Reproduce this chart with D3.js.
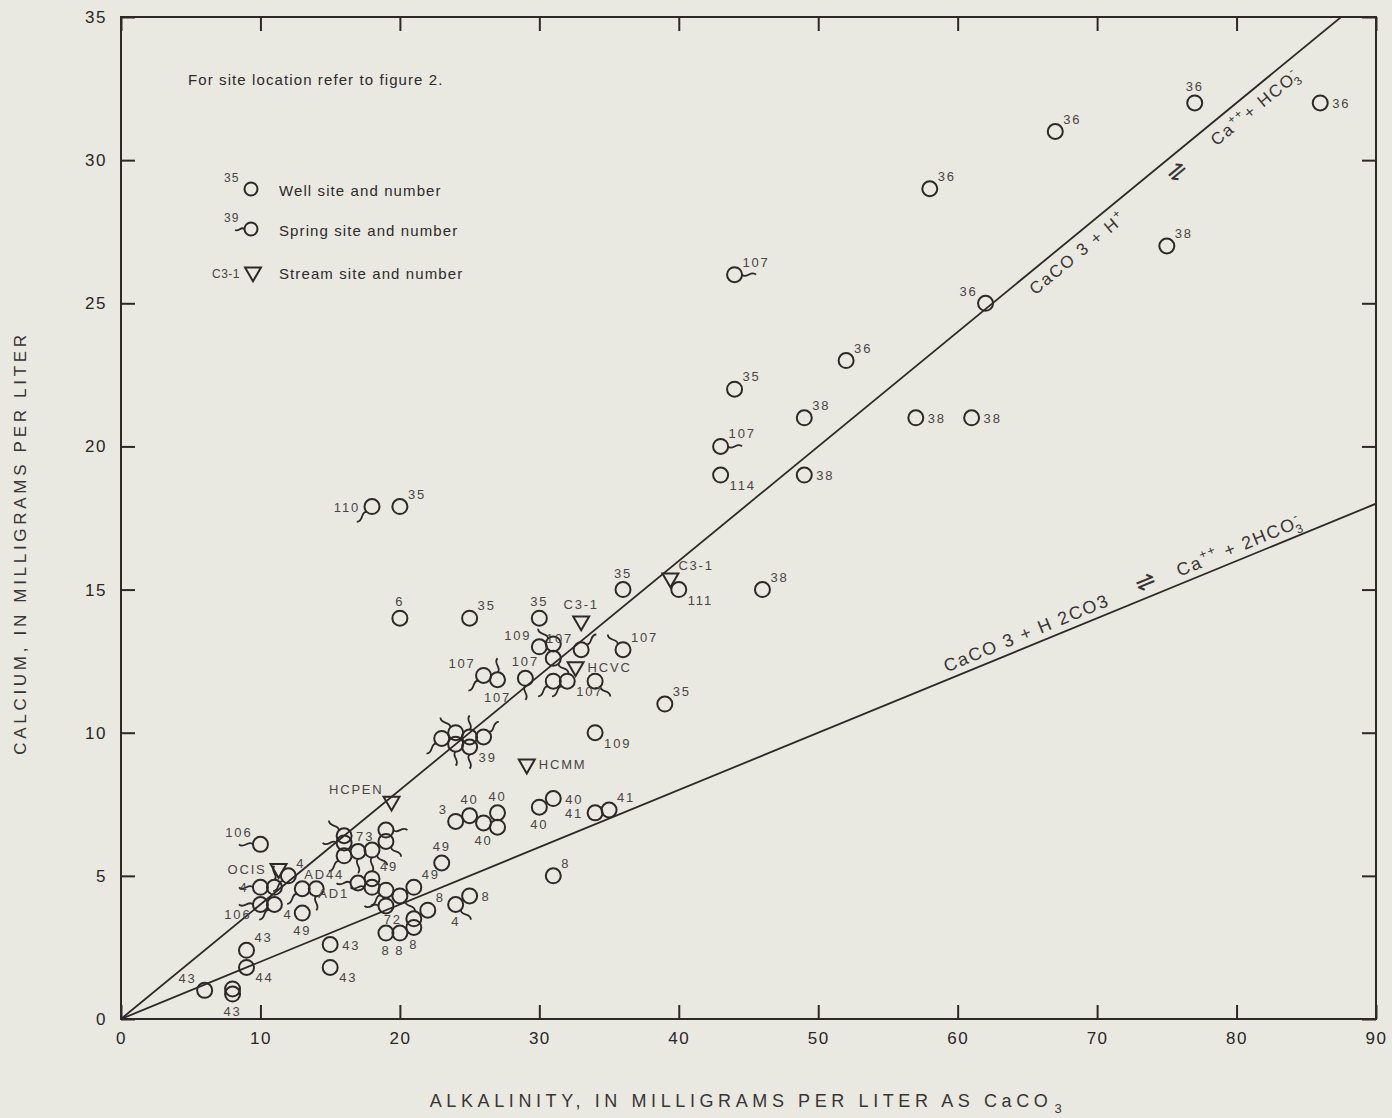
<!DOCTYPE html>
<html>
<head>
<meta charset="utf-8">
<script src="https://cdn.jsdelivr.net/npm/d3@7"></script>
<style>
  body { margin: 0; background: #e9e9e2; }
  svg { display: block; }
  text { font-family: "Liberation Sans", Arial, sans-serif; fill: #2e2a2a; }
</style>
</head>
<body>
<div id="chart"></div>
<script>
'use strict'

// axis ticks
const xTicks = [0, 10, 20, 30, 40, 50, 60, 70, 80, 90]
const yTicks = [0, 5, 10, 15, 20, 25, 30, 35]

// equilibrium lines: calcium = ratio * alkalinity
const lineRatios = [0.4, 0.2]

// wells: [alkalinity, calcium, site number, label side]
const wells = [
  [67, 31, '36', 'ne'], [77, 32, '36', 'n'], [86, 32, '36', 'e'], [58, 29, '36', 'ne'],
  [75, 27, '38', 'ne'], [62, 25, '36', 'nw'], [52, 23, '36', 'ne'], [44, 22, '35', 'ne'],
  [49, 21, '38', 'ne'], [57, 21, '38', 'e'], [61, 21, '38', 'e'], [43, 19, '114', 'se'],
  [49, 19, '38', 'e'], [20, 17.9, '35', 'ne'], [20, 14, '6', 'n'], [25, 14, '35', 'ne'],
  [30, 14, '35', 'n'], [36, 15, '35', 'n'], [40, 15, '111', 'se'], [46, 15, '38', 'ne'],
  [39, 11, '35', 'ne'], [34, 10, '109', 'se'], [30, 13, '109', 'nw'],
  [24, 6.9, '3', 'nw'], [25, 7.1, '40', 'n'], [26, 6.85, '40', 's'], [27, 7.2, '40', 'n'],
  [27, 6.7, '', ''], [30, 7.4, '40', 's'], [31, 7.7, '40', 'e'], [34, 7.2, '41', 'w'],
  [35, 7.3, '41', 'ne'], [31, 5.0, '8', 'ne'], [23, 5.45, '49', 'n'], [25, 4.3, '8', 'e'],
  [22, 3.8, '8', 'ne'], [21, 3.5, '72', 'w'], [21, 3.2, '8', 's'], [19, 3.0, '8', 's'],
  [20, 3.0, '8', 's'], [13, 3.7, '49', 's'], [21, 4.6, '49', 'ne'],
  [9, 2.4, '43', 'ne'], [9, 1.8, '44', 'se'], [15, 2.6, '43', 'e'], [15, 1.8, '43', 'se'],
  [6, 1.0, '43', 'nw'], [8, 1.05, '', ''], [8, 0.87, '43', 's']
]

// springs: [alkalinity, calcium, site number, label side, tail side]
const springs = [
  [44, 26, '107', 'ne', 'e'], [43, 20, '107', 'ne', 'e'], [18, 17.9, '110', 'w', 'sw'],
  [31, 13.1, '', '', 'nw'], [31, 12.6, '', '', 'se'], [33, 12.9, '107', 'nw', 'ne'],
  [36, 12.9, '107', 'ne', 'nw'], [26, 12, '107', 'nw', 'sw'], [27, 11.85, '107', 's', 'n'],
  [29, 11.9, '107', 'n', 's'], [31, 11.8, '', '', 'sw'], [32, 11.8, '107', 'se', 'sw'],
  [34, 11.8, '', '', 'se'],
  [23, 9.8, '', '', 'sw'], [24, 10.0, '', '', 'nw'], [24, 9.6, '', '', 's'],
  [25, 9.85, '', '', 'n'], [25, 9.5, '39', 'se', 's'], [26, 9.85, '', '', 'ne'],
  [16, 6.4, '73', 'e', 'nw'], [16, 6.15, '', '', 'w'], [16, 5.7, '', '', 'sw'],
  [17, 5.85, '', '', 's'], [18, 5.9, '', '', 'se'], [19, 6.2, '', '', 'se'], [19, 6.6, '', '', 'e'],
  [10, 6.1, '106', 'nw', 'w'], [12, 5.0, '4', 'ne', 'sw'], [10, 4.6, '4', 'w', 'w'],
  [11, 4.6, '', '', 'n'], [10, 4.0, '106', 'sw', 'w'], [11, 4.0, '4', 'se', 'sw'],
  [13, 4.55, '', '', 'sw'], [14, 4.55, 'AD44', 'nr', 's'], [17, 4.75, 'AD1', 'sw', 'w'],
  [18, 4.9, '49', 'ne', 'n'], [18, 4.6, '', '', 'w'], [19, 4.5, '', '', 'sw'],
  [20, 4.3, '', '', 'se'], [19, 3.95, '', '', 'w'], [24, 4.0, '4', 's', 'se']
]

// streams: [alkalinity, calcium, site name, label side]
const streams = [
  [33, 13.9, 'C3-1', 'n'], [39.4, 15.4, 'C3-1', 'ne'], [32.6, 12.3, 'HCVC', 'e'],
  [29.1, 8.9, 'HCMM', 'e'], [19.4, 7.6, 'HCPEN', 'nw'], [11.3, 5.25, 'OCIS', 'w']
]

////////////////////////////////////
//////////// svg setup /////////////
////////////////////////////////////

const svgWidth = 1392
const svgHeight = 1118
const margin = { left: 121, right: 16, top: 17, bottom: 99 }
const width = svgWidth - margin.left - margin.right
const height = svgHeight - margin.top - margin.bottom

const ink = '#2e2828'
const labelInk = '#4a4444'
const r = 7.5

const svg = d3.select('#chart').append('svg')
  .attr('width', svgWidth)
  .attr('height', svgHeight)

const g = svg.append('g')
  .attr('transform', `translate(${margin.left},${margin.top})`)

const x = d3.scaleLinear().domain([0, 90]).range([0, width])
const y = d3.scaleLinear().domain([0, 35]).range([height, 0])

// frame
g.append('rect')
  .attr('width', width).attr('height', height)
  .attr('fill', 'none').attr('stroke', ink).attr('stroke-width', 2)

// axes with inward ticks
const styleAxis = sel => {
  sel.select('.domain').remove()
  sel.selectAll('line').attr('stroke', ink).attr('stroke-width', 2)
  sel.selectAll('text').attr('font-size', 17).attr('letter-spacing', 1.5)
    .style('fill', '#2a2626')
}

g.append('g').attr('transform', `translate(0,${height})`)
  .call(d3.axisBottom(x).tickValues(xTicks).tickSize(-14).tickPadding(13))
  .call(styleAxis)
g.append('g')
  .call(d3.axisLeft(y).tickValues(yTicks).tickSize(-14).tickPadding(14))
  .call(styleAxis)
g.append('g')
  .call(d3.axisTop(x).tickValues(xTicks).tickSize(-14).tickFormat(''))
  .call(styleAxis)
g.append('g').attr('transform', `translate(${width},0)`)
  .call(d3.axisRight(y).tickValues(yTicks).tickSize(-14).tickFormat(''))
  .call(styleAxis)

// equilibrium lines
const clip = svg.append('clipPath').attr('id', 'plot-clip')
clip.append('rect').attr('width', width).attr('height', height)

g.append('g').attr('clip-path', 'url(#plot-clip)')
  .selectAll('line.eq')
  .data(lineRatios)
  .join('line')
  .attr('x1', x(0)).attr('y1', y(0))
  .attr('x2', x(90)).attr('y2', d => y(90 * d))
  .attr('stroke', ink).attr('stroke-width', 1.8)

// equation labels along lines
const angleOf = k => Math.atan2(y(k) - y(0), x(1) - x(0)) * 180 / Math.PI

// parts: [text, kind, dx]; kind is '', 'sup' or 'sub'
const eqText = (ratio, at, offset, size, parts) => {
  const t = g.append('text')
    .attr('transform', `translate(${x(at)},${y(at * ratio)}) rotate(${angleOf(ratio)})`)
    .attr('y', offset)
    .attr('font-size', size).attr('letter-spacing', 1.8)
    .style('fill', '#3a3434')
  let shift = 0
  parts.forEach(p => {
    const target = p[1] === 'sup' ? -0.45 * size : p[1] === 'sub' ? 0.3 * size : 0
    t.append('tspan').text(p[0])
      .attr('font-size', p[1] ? size * 0.68 : size)
      .attr('dy', target - shift)
      .attr('dx', p[2] || 0)
    shift = target
  })
  return t
}

eqText(0.4, 64.6, 21, 17, [['CaCO 3 + H'], ['+', 'sup']])
eqText(0.4, 74.5, 23, 24, [['\u21CC']])
eqText(0.4, 77.6, 21, 17, [['Ca'], ['++', 'sup'], ['+ HCO', ''], ['-', 'sup'], ['3', 'sub', -8]])

eqText(0.2, 59.4, -7, 18, [['CaCO 3 + H 2CO3']])
eqText(0.2, 73.2, -7, 24, [['\u21CC']])
eqText(0.2, 76.1, -7, 18, [['Ca'], ['++', 'sup'], [' + 2HCO', ''], ['-', 'sup'], ['3', 'sub', -8]])

// label placement relative to symbol centre
const lp = {
  n: [0, -12, 'middle'], ne: [8, -8, 'start'], e: [12, 5, 'start'], se: [9, 15, 'start'],
  s: [0, 22, 'middle'], sw: [-9, 15, 'end'], w: [-12, 5, 'end'], nw: [-8, -7, 'end'],
  nr: [-12, -10, 'start']
}
const dirAngle = { e: 0, se: 45, s: 90, sw: 135, w: 180, nw: 225, n: 270, ne: 315 }

const tailPath = (cx, cy, dir) => {
  const a = dirAngle[dir] * Math.PI / 180
  const ux = Math.cos(a), uy = Math.sin(a)
  const px = -uy, py = ux
  const sx = cx + ux * r, sy = cy + uy * r
  return `M${sx},${sy} C${sx + ux * 4 + px * 5},${sy + uy * 4 + py * 5} ` +
    `${sx + ux * 9 - px * 5},${sy + uy * 9 - py * 5} ${cx + ux * (r + 14)},${cy + uy * (r + 14)}`
}

const addLabel = (cx, cy, text, side) => {
  if (!text) return
  const o = lp[side]
  g.append('text')
    .attr('x', cx + o[0]).attr('y', cy + o[1])
    .attr('text-anchor', o[2])
    .attr('font-size', 13).attr('letter-spacing', 1.8)
    .style('fill', labelInk)
    .text(text)
}

const marks = g.append('g')

// spring tails
marks.selectAll('path.tail')
  .data(springs)
  .join('path')
  .attr('d', d => tailPath(x(d[0]), y(d[1]), d[4]))
  .attr('fill', 'none').attr('stroke', ink).attr('stroke-width', 1.8)

// circles for wells and springs
marks.selectAll('circle.site')
  .data(wells.concat(springs))
  .join('circle')
  .attr('cx', d => x(d[0])).attr('cy', d => y(d[1]))
  .attr('r', r)
  .attr('fill', 'none').attr('stroke', ink).attr('stroke-width', 2)

// streams (down triangles)
const tri = d3.symbol().type(d3.symbolTriangle).size(110)
marks.selectAll('path.stream')
  .data(streams)
  .join('path')
  .attr('d', tri)
  .attr('transform', d => `translate(${x(d[0])},${y(d[1])}) rotate(180)`)
  .attr('fill', 'none').attr('stroke', ink).attr('stroke-width', 2)

wells.concat(springs).forEach(d => addLabel(x(d[0]), y(d[1]), d[2], d[3]))
streams.forEach(d => addLabel(x(d[0]), y(d[1]), d[2], d[3]))

////////////////////////////////////
////////////// legend //////////////
////////////////////////////////////

const lg = svg.append('g')
lg.append('text').attr('x', 188).attr('y', 85)
  .attr('font-size', 15).attr('letter-spacing', 1.1)
  .text('For site location refer to figure 2.')

const legendRows = [
  ['35', 'Well site and number', 190],
  ['39', 'Spring site and number', 230],
  ['C3-1', 'Stream site and number', 273]
]
legendRows.forEach(row => {
  lg.append('text').attr('x', 279).attr('y', row[2] + 6)
    .attr('font-size', 15).attr('letter-spacing', 1.1)
    .text(row[1])
})
lg.append('circle').attr('cx', 251).attr('cy', 189).attr('r', 6.5)
  .attr('fill', 'none').attr('stroke', ink).attr('stroke-width', 2)
lg.append('text').attr('x', 224).attr('y', 182).attr('font-size', 12).attr('letter-spacing', 1)
  .style('fill', labelInk).text('35')
lg.append('circle').attr('cx', 251).attr('cy', 229).attr('r', 6.5)
  .attr('fill', 'none').attr('stroke', ink).attr('stroke-width', 2)
lg.append('path').attr('d', 'M244.5,229 C241,226 239,232 235,230')
  .attr('fill', 'none').attr('stroke', ink).attr('stroke-width', 1.8)
lg.append('text').attr('x', 224).attr('y', 222).attr('font-size', 12).attr('letter-spacing', 1)
  .style('fill', labelInk).text('39')
lg.append('path').attr('d', tri).attr('transform', 'translate(253,272) rotate(180)')
  .attr('fill', 'none').attr('stroke', ink).attr('stroke-width', 2)
lg.append('text').attr('x', 240).attr('y', 278).attr('text-anchor', 'end')
  .attr('font-size', 12).attr('letter-spacing', 0.5)
  .style('fill', labelInk).text('C3-1')

////////////////////////////////////
/////////// axis titles ////////////
////////////////////////////////////

const xt = svg.append('text')
  .attr('x', 748).attr('y', 1107)
  .attr('text-anchor', 'middle')
  .attr('font-size', 18).attr('letter-spacing', 4.6)
  .style('fill', '#3a3434')
xt.append('tspan').text('ALKALINITY, IN MILLIGRAMS PER LITER AS CaCO')
xt.append('tspan').text('3').attr('font-size', 13).attr('dy', 6).attr('dx', 2)

svg.append('text')
  .attr('transform', 'translate(26,543) rotate(-90)')
  .attr('text-anchor', 'middle')
  .attr('font-size', 17).attr('letter-spacing', 3.7)
  .style('fill', '#3a3434')
  .text('CALCIUM, IN MILLIGRAMS PER LITER')
</script>
</body>
</html>
